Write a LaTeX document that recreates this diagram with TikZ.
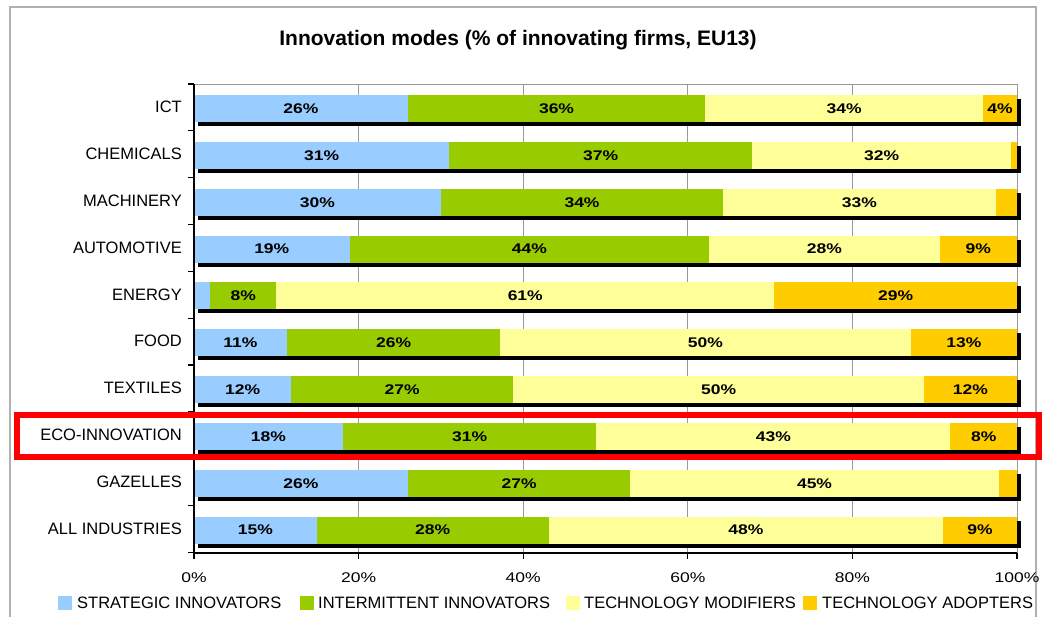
\documentclass[tikz,border=0pt]{standalone}
\usepackage{fontspec}
\usepackage{graphicx}
\setmainfont{Liberation Sans}
\definecolor{cblue}{HTML}{99CCFF}
\definecolor{cgreen}{HTML}{99CC00}
\definecolor{cyellow}{HTML}{FFFF99}
\definecolor{corange}{HTML}{FFCC00}
\definecolor{framegray}{HTML}{B0B0B0}
\definecolor{gridgray}{HTML}{9A9A9A}
\newcommand\pctlab[1]{\scalebox{1.25}[1]{\bfseries #1}}
\newcommand\ticklab[1]{\scalebox{1.25}[1]{#1}}
\tikzset{
  catlabel/.style={anchor=east, inner sep=0pt, font=\fontsize{16.5}{16.5}\selectfont},
  pctnode/.style={inner sep=0pt, font=\fontsize{14}{14}\selectfont},
  legtext/.style={anchor=west, inner sep=0pt, font=\fontsize{16.5}{16.5}\selectfont},
  gridline/.style={draw=gridgray, line width=0.9pt},
  axisline/.style={draw=black, line width=1.3pt},
  hilite/.style={draw=red, line width=6pt}
}
\begin{document}
\begin{tikzpicture}[x=1pt,y=-1pt]
\useasboundingbox (0,0) rectangle (1047,617);
\clip (0,0) rectangle (1047,617);
\fill[white] (0,0) rectangle (1047,617);
% outer frame
\draw[framegray, line width=1.5pt] (10,7) rectangle (1036,640);
% title
\node[inner sep=0pt, font=\fontsize{21}{21}\selectfont\bfseries] (title) at (518,40) {Innovation modes (\% of innovating firms, EU13)};
% plot area border and grid
\draw[gridline] (194,84) -- (1017,84) -- (1017,553);
\foreach \p in {20,40,60,80} {
  \draw[gridline] ({194+8.23*\p},84) -- ({194+8.23*\p},553);
}
% bars
\foreach \i/\name/\a/\b/\c/\la/\lb/\lc/\ld in {
  0/ICT/26/62.1/95.9/26\%/36\%/34\%/4\%,
  1/CHEMICALS/31/67.8/99.3/31\%/37\%/32\%/,
  2/MACHINERY/30/64.3/97.4/30\%/34\%/33\%/,
  3/AUTOMOTIVE/18.9/62.6/90.6/19\%/44\%/28\%/9\%,
  4/ENERGY/2/10/70.5//8\%/61\%/29\%,
  5/FOOD/11.3/37.2/87.1/11\%/26\%/50\%/13\%,
  6/TEXTILES/11.8/38.8/88.7/12\%/27\%/50\%/12\%,
  7/ECO-INNOVATION/18.1/48.9/91.9/18\%/31\%/43\%/8\%,
  8/GAZELLES/26/53/97.8/26\%/27\%/45\%/,
  9/ALL INDUSTRIES/14.9/43.1/91/15\%/28\%/48\%/9\%} {
  \pgfmathsetmacro\rt{84+46.85*\i}
  \pgfmathsetmacro\bt{\rt+11}
  \pgfmathsetmacro\bb{\rt+38}
  \pgfmathsetmacro\bm{\rt+24.5}
  \pgfmathsetmacro\xa{194+8.23*\a}
  \pgfmathsetmacro\xb{194+8.23*\b}
  \pgfmathsetmacro\xc{194+8.23*\c}
  \fill[black] (198,\bt+4) rectangle (1021,\bb+4);
  \fill[cblue] (194,\bt) rectangle (\xa,\bb);
  \fill[cgreen] (\xa,\bt) rectangle (\xb,\bb);
  \fill[cyellow] (\xb,\bt) rectangle (\xc,\bb);
  \fill[corange] (\xc,\bt) rectangle (1017,\bb);
  \node[pctnode] (sa\i) at ({(194+\xa)/2},\bm) {\pctlab{\la}};
  \node[pctnode] (sb\i) at ({(\xa+\xb)/2},\bm) {\pctlab{\lb}};
  \node[pctnode] (sc\i) at ({(\xb+\xc)/2},\bm) {\pctlab{\lc}};
  \node[pctnode] (sd\i) at ({(\xc+1017)/2},\bm) {\pctlab{\ld}};
  \node[catlabel] (cat\i) at (182,{\rt+23}) {\name};
}
% axes
\draw[axisline] (194,84) -- (194,553) -- (1017,553);
\foreach \i in {0,...,10} {
  \draw[axisline] (188,{84+46.85*\i}) -- (194,{84+46.85*\i});
}
\foreach \p in {0,20,40,60,80,100} {
  \draw[axisline] ({194+8.23*\p},553) -- ({194+8.23*\p},559);
  \node[pctnode] (tick\p) at ({194+8.23*\p},578) {\ticklab{\p\%}};
}
% legend
\fill[cblue] (58,596) rectangle (72,610);
\node[legtext] (lg1) at (77,603) {STRATEGIC INNOVATORS};
\fill[cgreen] (300,596) rectangle (314,610);
\node[legtext] (lg2) at (318,603) {INTERMITTENT INNOVATORS};
\fill[cyellow] (566,596) rectangle (580,610);
\node[legtext] (lg3) at (584,603) {TECHNOLOGY MODIFIERS};
\fill[corange] (803,596) rectangle (817,610);
\node[legtext] (lg4) at (822,603) {TECHNOLOGY ADOPTERS};
% highlight
\draw[hilite] (17,415) rectangle (1039,457);
\end{tikzpicture}
\end{document}
